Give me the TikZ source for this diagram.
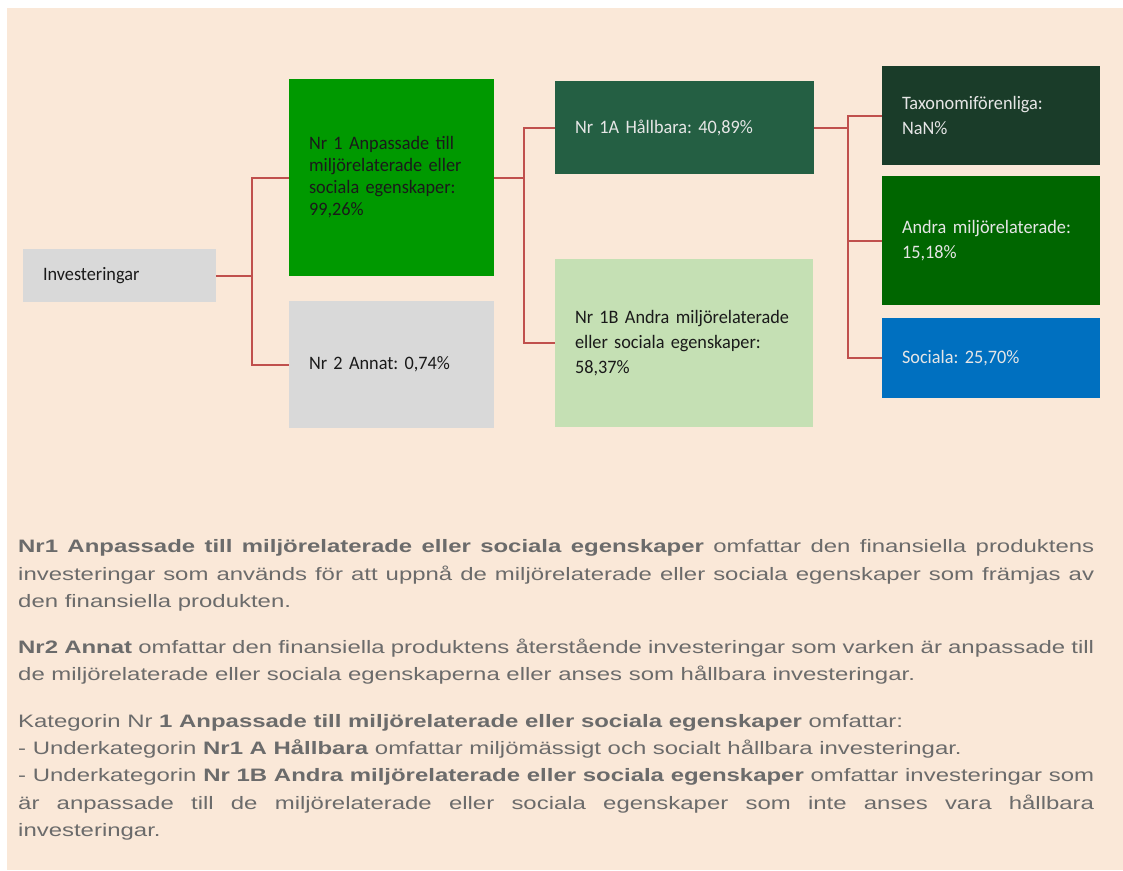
\documentclass[tikz,border=0pt]{standalone}
\usepackage{fontspec}
\newfontfamily\bodyfont[FakeStretch=1.33]{Liberation Sans}
\newfontfamily\boxfont[FakeStretch=0.96,WordSpace=0.7]{Carlito}
\definecolor{peach}{HTML}{FAE8D8}
\definecolor{boxgray}{HTML}{D9D9D9}
\definecolor{grnA}{HTML}{009900}
\definecolor{grnB}{HTML}{245F43}
\definecolor{grnC}{HTML}{1A3C29}
\definecolor{grnD}{HTML}{006600}
\definecolor{bluS}{HTML}{0070C0}
\definecolor{grnL}{HTML}{C5E0B4}
\definecolor{connred}{HTML}{C0504D}
\definecolor{darktxt}{HTML}{1A1A1A}
\definecolor{lighttxt}{HTML}{E6E6E6}
\definecolor{bodygray}{HTML}{6B6B6B}
\tikzset{
  box/.style={inner xsep=20pt, inner ysep=0pt, anchor=center, align=left, draw=none},
  dk/.style={text=darktxt},
  lt/.style={text=lighttxt},
  fs/.style={font=\boxfont\fontsize{19}{25}\selectfont\frenchspacing},
  fsn/.style={font=\boxfont\fontsize{19}{22}\selectfont\frenchspacing},
  conn/.style={draw=connred, line width=2pt},
  para/.style={anchor=north west, inner sep=0pt, text width=1076pt, align=justify,
    text=bodygray, font=\bodyfont\fontsize{18}{27.3}\selectfont\frenchspacing}
}
\begin{document}
\begin{tikzpicture}[x=1pt,y=-1pt]
\useasboundingbox (0,0) rectangle (1123,870);
\fill[white] (0,0) rectangle (1123,870);
\fill[peach] (7,8) rectangle (1123,870);

\node[box,fs,dk,fill=boxgray,text width=153pt,minimum height=53pt] (inv) at (119.5,275.5) {Investeringar};
\node[box,fsn,dk,fill=grnA,text width=165pt,minimum height=197pt] (nr1) at (391.5,177.5) {Nr 1 Anpassade till\\miljörelaterade eller\\sociala egenskaper:\\99,26\%};
\node[box,fs,dk,fill=boxgray,text width=165pt,minimum height=127pt] (nr2) at (391.5,364.5) {Nr 2 Annat: 0,74\%};
\node[box,fs,lt,fill=grnB,text width=219pt,minimum height=93pt] (nr1a) at (684.5,127.5) {Nr 1A Hållbara: 40,89\%};
\node[box,fs,dk,fill=grnL,text width=218pt,minimum height=168pt] (nr1b) at (684,343) {Nr 1B Andra miljörelaterade\\eller sociala egenskaper:\\58,37\%};
\node[box,fs,lt,fill=grnC,text width=178pt,minimum height=99pt] (tax) at (991,115.5) {Taxonomiförenliga:\\NaN\%};
\node[box,fs,lt,fill=grnD,text width=178pt,minimum height=129pt] (andra) at (991,240.5) {Andra miljörelaterade:\\15,18\%};
\node[box,fs,lt,fill=bluS,text width=178pt,minimum height=80pt] (soc) at (991,358) {Sociala: 25,70\%};

\coordinate (j1) at (252,275.5);
\coordinate (j2) at (524,177.5);
\coordinate (j3) at (848,127.5);
\draw[conn] (inv.east) -- (j1);
\draw[conn] (nr1.west) -| (j1) |- (nr2.west);
\draw[conn] (nr1.east) -- (j2);
\draw[conn] (nr1a.west) -| (j2) |- (nr1b.west);
\draw[conn] (nr1a.east) -- (j3);
\draw[conn] (tax.west) -| (j3) |- (soc.west);
\draw[conn] (j3) |- (andra.west);

\node[para] (p1) at (18,533.6) {\strut\textbf{Nr1 Anpassade till miljörelaterade eller sociala egenskaper} omfattar den finansiella produktens\linebreak investeringar som används för att uppnå de miljörelaterade eller sociala egenskaper som främjas av\linebreak den finansiella produkten.};
\node[para] (p2) at (18,633.9) {\strut\textbf{Nr2 Annat} omfattar den finansiella produktens återstående investeringar som varken är anpassade till\linebreak de miljörelaterade eller sociala egenskaperna eller anses som hållbara investeringar.};
\node[para] (p3) at (18,707.9) {\strut Kategorin Nr \textbf{1 Anpassade till miljörelaterade eller sociala egenskaper} omfattar:\newline
- Underkategorin \textbf{Nr1 A Hållbara} omfattar miljömässigt och socialt hållbara investeringar.\newline
- Underkategorin \textbf{Nr 1B Andra miljörelaterade eller sociala egenskaper} omfattar investeringar som\linebreak är anpassade till de miljörelaterade eller sociala egenskaper som inte anses vara hållbara\linebreak investeringar.};
\end{tikzpicture}
\end{document}
